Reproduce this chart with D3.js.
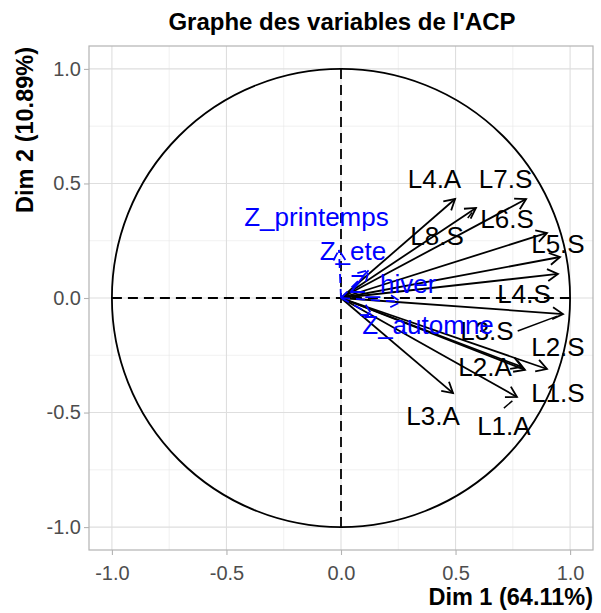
<!DOCTYPE html>
<html><head><meta charset="utf-8">
<script src="https://cdn.jsdelivr.net/npm/d3@7"></script>
<style>
body{margin:0;background:#fff}
svg{display:block}
text{font-family:"Liberation Sans",Arial,Helvetica,sans-serif}
</style>
</head><body>
<svg id="chart" width="601" height="613"></svg>
<script>
// ---------- data ----------
const activeNames = ["L4.A","L8.S","L7.S","L6.S","L5.S","L4.S","L3.S","L2.S","L2.A","L1.S","L1.A","L3.A"];
const activeDim1  = [0.498, 0.589, 0.808, 0.899, 0.956, 0.947, 0.969, 0.899, 0.803, 0.790, 0.768, 0.489];
const activeDim2  = [0.432, 0.393, 0.432, 0.284, 0.179, 0.105, -0.070, -0.310, -0.314, -0.301, -0.432, -0.415];
// repelled label positions (data units)
const activeLabelDim1 = [0.408, 0.419, 0.718, 0.725, 0.947, 0.799, 0.637, 0.947, 0.629, 0.947, 0.711, 0.402];
const activeLabelDim2 = [0.519, 0.271, 0.519, 0.345, 0.236, 0.017, -0.144, -0.214, -0.301, -0.415, -0.559, -0.515];

const supNames = ["Z_printemps","Z_ete","Z_hiver","Z_automne"];
const supDim1  = [-0.009, 0.122, 0.262, 0.135];
const supDim2  = [0.210, 0.122, -0.017, -0.074];
const supLabelDim1 = [-0.107, 0.052, 0.227, 0.380];
const supLabelDim2 = [0.356, 0.205, 0.063, -0.118];

const majorTicks = [-1, -0.5, 0, 0.5, 1];
const minorTicks = [-0.75, -0.25, 0.25, 0.75];
const tickLabels = ["-1.0", "-0.5", "0.0", "0.5", "1.0"];
const titleText = "Graphe des variables de l'ACP";
const xTitleText = "Dim 1 (64.11%)";
const yTitleText = "Dim 2 (10.89%)";

// ---------- layout ----------
const panel = {left: 89, right: 593, top: 46, bottom: 550};
const x = d3.scaleLinear().domain([-1.1, 1.1]).range([panel.left, panel.right]);
const y = d3.scaleLinear().domain([-1.1, 1.1]).range([panel.bottom, panel.top]);
const svg = d3.select("#chart");
const LABEL_FS = 26;
const HEAD = 12;

// grid
const grid = svg.append("g");
grid.selectAll(".vminor").data(minorTicks).join("line")
  .attr("x1", d => x(d)).attr("x2", d => x(d)).attr("y1", panel.top).attr("y2", panel.bottom)
  .attr("stroke", "#e6e6e6").attr("stroke-width", 0.6);
grid.selectAll(".hminor").data(minorTicks).join("line")
  .attr("y1", d => y(d)).attr("y2", d => y(d)).attr("x1", panel.left).attr("x2", panel.right)
  .attr("stroke", "#e6e6e6").attr("stroke-width", 0.6);
grid.selectAll(".vmajor").data(majorTicks).join("line")
  .attr("x1", d => x(d)).attr("x2", d => x(d)).attr("y1", panel.top).attr("y2", panel.bottom)
  .attr("stroke", "#dedede").attr("stroke-width", 1.1);
grid.selectAll(".hmajor").data(majorTicks).join("line")
  .attr("y1", d => y(d)).attr("y2", d => y(d)).attr("x1", panel.left).attr("x2", panel.right)
  .attr("stroke", "#dedede").attr("stroke-width", 1.1);

// axes
const xAxis = d3.axisBottom(x).tickValues(majorTicks).tickFormat((d, i) => tickLabels[i]).tickSize(5).tickPadding(11);
const yAxis = d3.axisLeft(y).tickValues(majorTicks).tickFormat((d, i) => tickLabels[i]).tickSize(5).tickPadding(3);
const gx = svg.append("g").attr("transform", `translate(0,${panel.bottom})`).call(xAxis);
const gy = svg.append("g").attr("transform", `translate(${panel.left},0)`).call(yAxis);
[gx, gy].forEach(g => {
  g.select(".domain").remove();
  g.selectAll(".tick line").attr("stroke", "#b3b3b3").attr("stroke-width", 1.1);
  g.selectAll(".tick text").attr("fill", "#4d4d4d").attr("font-size", 20)
    .attr("font-family", "'Liberation Sans', Arial, sans-serif");
});

// panel border
svg.append("rect").attr("x", panel.left).attr("y", panel.top)
  .attr("width", panel.right - panel.left).attr("height", panel.bottom - panel.top)
  .attr("fill", "none").attr("stroke", "#b3b3b3").attr("stroke-width", 1.2);

// circle
svg.append("circle").attr("cx", x(0)).attr("cy", y(0)).attr("r", x(1) - x(0))
  .attr("fill", "none").attr("stroke", "#000").attr("stroke-width", 1.8);

// zero lines
svg.append("line").attr("x1", x(-1)).attr("x2", x(1)).attr("y1", y(0)).attr("y2", y(0))
  .attr("stroke", "#000").attr("stroke-width", 1.8).attr("stroke-dasharray", "10,6");
svg.append("line").attr("x1", x(0)).attr("x2", x(0)).attr("y1", y(-1)).attr("y2", y(1))
  .attr("stroke", "#000").attr("stroke-width", 1.8).attr("stroke-dasharray", "10,6");

function headPath(x1, y1, x2, y2) {
  const a = Math.atan2(y2 - y1, x2 - x1);
  const b1 = [x2 - HEAD * Math.cos(a - Math.PI / 6), y2 - HEAD * Math.sin(a - Math.PI / 6)];
  const b2 = [x2 - HEAD * Math.cos(a + Math.PI / 6), y2 - HEAD * Math.sin(a + Math.PI / 6)];
  return `M${b1[0]},${b1[1]}L${x2},${y2}L${b2[0]},${b2[1]}`;
}

function drawArrows(names, d1, d2, color, dash) {
  const g = svg.append("g");
  names.forEach((n, i) => {
    const x1 = x(0), y1 = y(0), x2 = x(d1[i]), y2 = y(d2[i]);
    const shaft = g.append("line").attr("x1", x1).attr("y1", y1).attr("x2", x2).attr("y2", y2)
      .attr("stroke", color).attr("stroke-width", 1.8);
    const head = g.append("path").attr("d", headPath(x1, y1, x2, y2))
      .attr("fill", "none").attr("stroke", color).attr("stroke-width", 1.8);
    if (dash) { shaft.attr("stroke-dasharray", dash); head.attr("stroke-dasharray", dash); }
  });
}

drawArrows(activeNames, activeDim1, activeDim2, "#000", null);
drawArrows(supNames, supDim1, supDim2, "#0000ff", "9,6");

function drawLabels(names, ld1, ld2, d1, d2, color, withSegments) {
  const g = svg.append("g");
  names.forEach((n, i) => {
    const cx = x(ld1[i]), cy = y(ld2[i]);
    const t = g.append("text").attr("x", cx).attr("y", cy + 0.358 * LABEL_FS)
      .attr("text-anchor", "middle").attr("font-size", LABEL_FS).attr("fill", color).text(n);
    if (!withSegments) return;
    const w = t.node().getComputedTextLength();
    const hw = w / 2 + 4, hh = 18;
    const l = cx - hw, r = cx + hw, top = cy - hh, bot = cy + hh;
    const px = x(d1[i]), py = y(d2[i]);
    const dx = Math.max(l - px, 0, px - r), dy = Math.max(top - py, 0, py - bot);
    const dist = Math.hypot(dx, dy);
    if (dist <= 10) return;
    const sx = px < l ? l : (px > r ? r : cx);
    const sy = py < top ? top : (py > bot ? bot : cy);
    const len = Math.hypot(px - sx, py - sy);
    const ex = px - 6 * (px - sx) / len, ey = py - 6 * (py - sy) / len;
    g.insert("line", "text").attr("x1", sx).attr("y1", sy).attr("x2", ex).attr("y2", ey)
      .attr("stroke", color).attr("stroke-width", 1.5);
  });
}

drawLabels(activeNames, activeLabelDim1, activeLabelDim2, activeDim1, activeDim2, "#000", true);
drawLabels(supNames, supLabelDim1, supLabelDim2, supDim1, supDim2, "#0000ff", false);

// titles
svg.append("text").attr("x", (panel.left + panel.right) / 2 + 1).attr("y", 30)
  .attr("text-anchor", "middle").attr("font-size", 24).attr("font-weight", "bold")
  .attr("fill", "#000").text(titleText);
svg.append("text").attr("x", panel.right).attr("y", 605)
  .attr("text-anchor", "end").attr("font-size", 23.5).attr("font-weight", "bold")
  .attr("fill", "#000").text(xTitleText);
svg.append("text").attr("transform", `translate(33,${panel.top + 1}) rotate(-90)`)
  .attr("text-anchor", "end").attr("font-size", 23.5).attr("font-weight", "bold")
  .attr("fill", "#000").text(yTitleText);
</script>
</body></html>
